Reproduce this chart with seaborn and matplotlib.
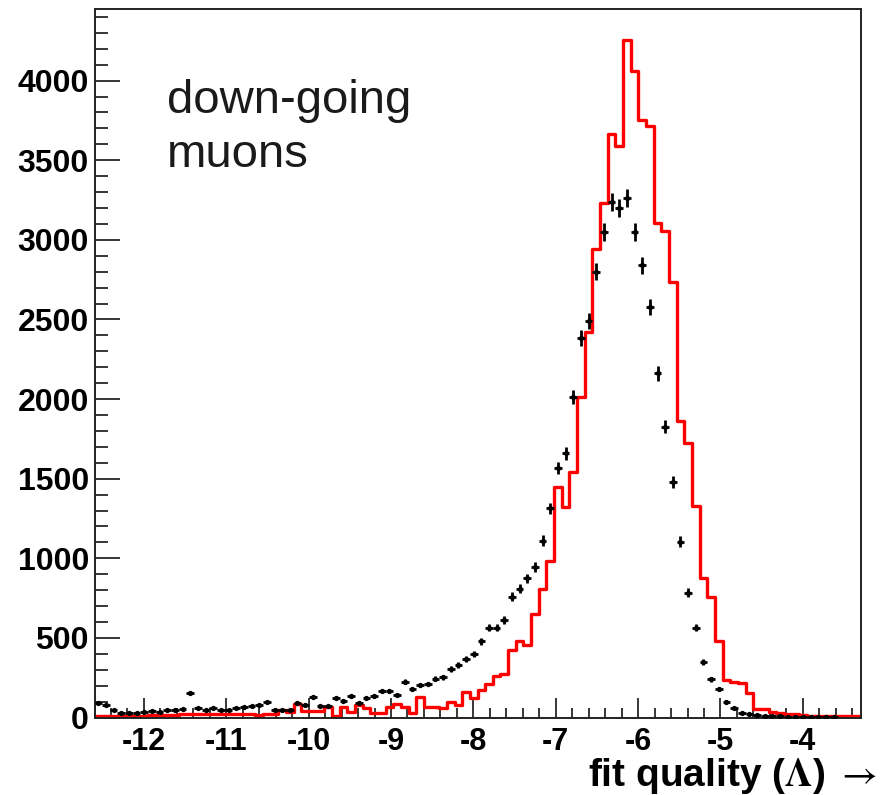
import numpy as np
import pandas as pd
import matplotlib
matplotlib.use("Agg")
import matplotlib.pyplot as plt
import seaborn as sns

# Histogram range and binning of the fit-quality variable
x_lo, x_hi = -12.6, -3.3
n_bins = 100

# Simulated down-going muons (red histogram), counts per bin
simulated = [
    10, 10, 10, 10, 12, 12, 12, 15, 15, 15,
    18, 20, 20, 20, 22, 22, 22, 25, 25, 22,
    20, 18, 20, 22, 45, 35, 85, 40, 40, 40,
    68, 8, 68, 36, 79, 58, 30, 30, 68, 85,
    68, 26, 131, 68, 68, 60, 99, 79, 162, 120,
    173, 210, 261, 273, 424, 482, 455, 650, 808, 986,
    1448, 1324, 1541, 2015, 2423, 2941, 3234, 3665, 3590, 4256,
    4061, 3753, 3715, 3104, 3056, 2738, 1862, 1726, 1330, 878,
    759, 483, 236, 223, 215, 156, 51, 51, 36, 26,
    20, 20, 16, 9, 9, 9, 9, 9, 9, 9,
]

# Measured events (black points), counts per bin
observed = [
    93, 79, 47, 30, 30, 30, 36, 43, 36, 47,
    50, 55, 156, 58, 50, 58, 47, 47, 58, 68,
    72, 79, 99, 50, 47, 50, 93, 80, 127, 72,
    72, 125, 106, 135, 93, 125, 135, 168, 168, 143,
    224, 178, 204, 210, 242, 253, 304, 330, 367, 398,
    478, 564, 564, 612, 759, 808, 874, 944, 1110, 1314,
    1567, 1660, 2015, 2382, 2491, 2800, 3051, 3240, 3198, 3261,
    3051, 2842, 2580, 2162, 1827, 1478, 1104, 784, 565, 351,
    240, 179, 99, 58, 31, 21, 15, 12, 10, 8,
    6, 5, 4, 3, 2, 1, 1, 0, 0, 0,
]

x_ticks = [-12, -11, -10, -9, -8, -7, -6, -5, -4]
y_ticks = [0, 500, 1000, 1500, 2000, 2500, 3000, 3500, 4000]
y_top = 4450

sns.set_theme(style="white")
plt.rcParams["font.family"] = ["Liberation Sans", "DejaVu Sans"]
plt.rcParams["axes.unicode_minus"] = False
plt.rcParams["mathtext.fontset"] = "stix"

edges = np.linspace(x_lo, x_hi, n_bins + 1)
centers = 0.5 * (edges[:-1] + edges[1:])
half_width = 0.5 * (edges[1] - edges[0])

df = pd.DataFrame({"fit": centers, "mc": simulated, "data": observed})
df["err"] = np.sqrt(df["data"])

W, H = 881, 795
fig = plt.figure(figsize=(W / 100, H / 100), dpi=100)
ax = fig.add_axes([94.5 / W, 1 - 717.5 / H, (860.5 - 94.5) / W, (717.5 - 9) / H])

sns.histplot(data=df, x="fit", weights="mc", bins=n_bins, binrange=(x_lo, x_hi),
             element="step", fill=False, color="#ff0000", linewidth=2.4, ax=ax)

pts = df[df["data"] > 0]
ax.errorbar(pts["fit"], pts["data"], xerr=half_width, yerr=pts["err"],
            fmt="o", ms=3.8, mew=0, color="black", ecolor="black",
            elinewidth=2.0, capsize=0, zorder=3)

ax.set_xlim(x_lo, x_hi)
ax.set_ylim(0, y_top)
ax.set_xlabel("")
ax.set_ylabel("")

ax.set_xticks(x_ticks)
ax.set_xticklabels([str(v) for v in x_ticks])
ax.set_xticks(np.arange(-12.6, -3.29, 0.2), minor=True)
ax.set_yticks(y_ticks)
ax.set_yticklabels([str(v) for v in y_ticks])
ax.set_yticks(np.arange(0, y_top, 100), minor=True)

ax.tick_params(axis="x", which="major", direction="in", length=14.5, width=1.1,
               color="black", pad=6.5, labelsize=22, bottom=True, top=False)
ax.tick_params(axis="x", which="minor", direction="in", length=7.2, width=1.1,
               color="black", bottom=True, top=False)
ax.tick_params(axis="y", which="major", direction="in", length=18, width=1.1,
               color="black", pad=4, labelsize=23, left=True, right=False)
ax.tick_params(axis="y", which="minor", direction="in", length=9, width=1.1,
               color="black", left=True, right=False)
for lab in ax.get_xticklabels() + ax.get_yticklabels():
    lab.set_fontweight("bold")
    lab.set_color("black")

for side in ["left", "bottom", "top", "right"]:
    ax.spines[side].set_visible(True)
    ax.spines[side].set_color("#222222")
    ax.spines[side].set_linewidth(1.4)

fig.text(167 / W, 1 - 79 / H, "down-going\nmuons", ha="left", va="top",
         fontsize=34, color="#1a1a1a", linespacing=1.3)

fig.text(877 / W, 1 - 786 / H, r"fit quality ($\mathbf{\Lambda}$) $\rightarrow$",
         ha="right", va="baseline", fontsize=28, fontweight="bold", color="black")

fig.savefig("out.png", dpi=100, facecolor="white")
